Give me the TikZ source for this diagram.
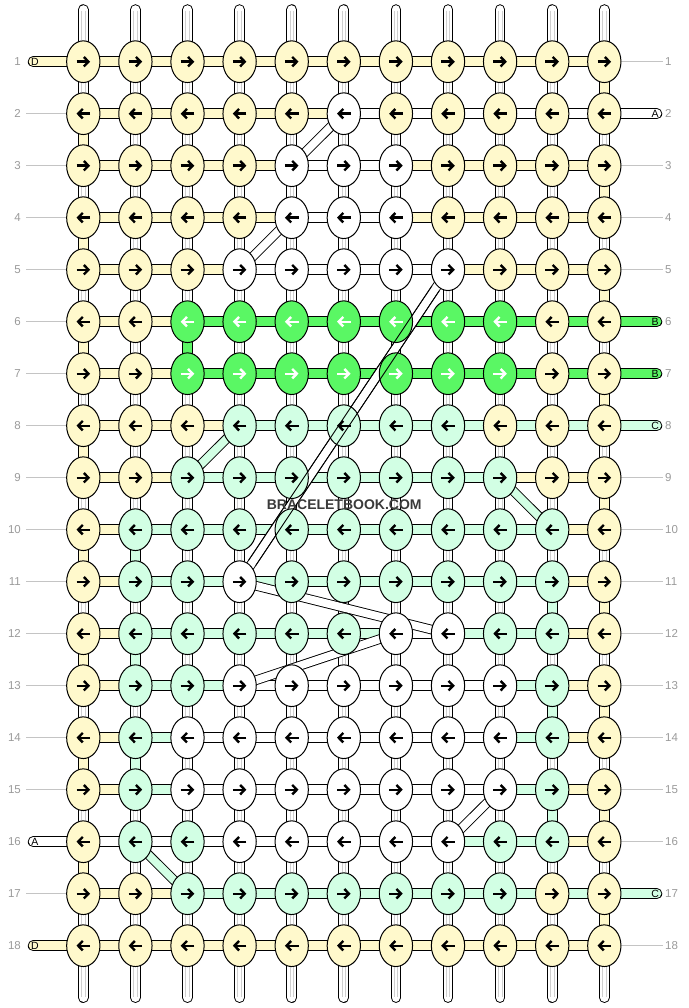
\documentclass[tikz,border=0pt]{standalone}
\usepackage{fontspec}
\setmainfont{Liberation Sans}
\usetikzlibrary{arrows.meta,shapes.geometric,calc}
\definecolor{cY}{HTML}{FFF9CC}
\definecolor{cG}{HTML}{5AF764}
\definecolor{cM}{HTML}{D2FFE4}
\definecolor{cW}{HTML}{FFFFFF}
\colorlet{aY}{black}\colorlet{aW}{black}\colorlet{aM}{black}\colorlet{aG}{white}
\definecolor{lab}{HTML}{9A9A9A}
\definecolor{gline}{HTML}{C4C4C4}
\definecolor{wline}{HTML}{CFCFCF}
\definecolor{wm}{HTML}{3A3A3A}
\tikzset{
  knot/.style={ellipse, draw, line width=1pt, minimum width=33.3pt, minimum height=41.7pt, inner sep=0pt},
  arr/.style={line width=2.4pt, -{Straight Barb[length=4.6pt,width=9.5pt]}},
  segout/.style={line width=10.7pt, draw=black},
  segin/.style={line width=8.7pt},
  tailout/.style={line width=10.7pt, draw=black, line cap=round},
  tailin/.style={line width=8.7pt, line cap=round},
  bandout/.style={line width=9.6pt, draw=black},
  bandin/.style={line width=7.8pt},
  edgeline/.style={line width=0.9pt, draw=black},
  numlab/.style={text=lab, font=\fontsize{11.5}{12}\selectfont, inner sep=0pt},
  taillab/.style={font=\fontsize{10.5}{11}\selectfont, inner sep=0pt},
  rowline/.style={draw=gline, line width=1pt}
}
\begin{document}
\begin{tikzpicture}[x=1pt,y=-1pt]
\useasboundingbox (0,0) rectangle (688,1008);
% grid coordinates
\foreach \r in {1,...,18}{\foreach \c in {1,...,11}{
  \coordinate (p-\r-\c) at ({83.3+(\c-1)*52.1},{61.7+(\r-1)*52});}}
\foreach \c in {1,...,11}{
  \coordinate (top-\c) at ({83.3+(\c-1)*52.1},9.6);
  \coordinate (bot-\c) at ({83.3+(\c-1)*52.1},997.6);}
% warp strands
\foreach \c in {1,...,11}{
  \draw[tailout] (top-\c) -- (bot-\c);
  \draw[tailin, draw=white] (top-\c) -- (bot-\c);
  \draw[wline, line width=0.8pt] ([xshift=-1.8pt,yshift=-1pt]top-\c) -- ([xshift=-1.8pt,yshift=1pt]bot-\c);
  \draw[wline, line width=0.8pt] ([xshift=1.8pt,yshift=-1pt]top-\c) -- ([xshift=1.8pt,yshift=1pt]bot-\c);
}
% coloured vertical segments
\foreach \c/\r/\k in {1/2/Y,1/4/Y,1/6/Y,1/8/Y,1/10/Y,1/12/Y,1/14/Y,1/16/Y,
  11/1/Y,11/3/Y,11/5/Y,11/7/Y,11/9/Y,11/11/Y,11/13/Y,11/15/Y,11/17/Y,
  3/6/G,2/10/M,2/12/M,2/14/M,10/11/M,10/13/M,10/15/M}{
  \pgfmathtruncatemacro\rr{\r+1}
  \draw[segout] (p-\r-\c) -- (p-\rr-\c);
  \draw[segin, draw=c\k] (p-\r-\c) -- (p-\rr-\c);
}
% row guide lines
\foreach \r in {2,3,4,5,6,7,8,9,10,11,12,13,14,15,17}{
  \coordinate (gl-\r) at (26,{61.7+(\r-1)*52});
  \draw[rowline] (gl-\r) -- (p-\r-1);}
\foreach \r in {1,3,4,5,9,10,11,12,13,14,15,16,18}{
  \coordinate (gr-\r) at (663,{61.7+(\r-1)*52});
  \draw[rowline] (p-\r-11) -- (gr-\r);}
% tails
\foreach \r/\k/\t in {1/Y/D,16/W/A,18/Y/D}{
  \coordinate (tl-\r) at (33.1,{61.7+(\r-1)*52});
  \draw[tailout] (tl-\r) -- (p-\r-1);
  \draw[tailin, draw=c\k] (tl-\r) -- (p-\r-1);
  \node[taillab] at ([xshift=1.8pt]tl-\r) {\t};}
\foreach \r/\k/\t in {2/W/A,6/G/B,7/G/B,8/M/C,17/M/C}{
  \coordinate (tr-\r) at (656.9,{61.7+(\r-1)*52});
  \draw[tailout] (p-\r-11) -- (tr-\r);
  \draw[tailin, draw=c\k] (p-\r-11) -- (tr-\r);
  \node[taillab] at ([xshift=-1.8pt]tr-\r) {\t};}
% horizontal segments
\foreach \r/\row in {
 1/{Y,Y,Y,Y,Y,Y,Y,Y,Y,Y},
 2/{Y,Y,Y,Y,Y,W,W,W,W,W},
 3/{Y,Y,Y,Y,W,W,Y,Y,Y,Y},
 4/{Y,Y,Y,Y,W,W,Y,Y,Y,Y},
 5/{Y,Y,Y,W,W,W,W,Y,Y,Y},
 6/{Y,Y,G,G,G,G,G,G,G,G},
 7/{Y,Y,G,G,G,G,G,G,G,G},
 8/{Y,Y,Y,M,M,M,M,M,M,M},
 9/{Y,Y,M,M,M,M,M,M,Y,Y},
 10/{Y,M,M,M,M,M,M,M,M,Y},
 11/{Y,M,M,M,M,M,M,M,M,Y},
 12/{Y,M,M,M,M,M,W,M,M,Y},
 13/{Y,M,M,W,W,W,W,W,M,Y},
 14/{Y,M,W,W,W,W,W,W,M,Y},
 15/{Y,M,W,W,W,W,W,W,M,Y},
 16/{W,W,W,W,W,W,W,M,M,Y},
 17/{Y,Y,M,M,M,M,M,M,M,M},
 18/{Y,Y,Y,Y,Y,Y,Y,Y,Y,Y}}{
  \foreach \k [count=\c] in \row {
    \pgfmathtruncatemacro\cc{\c+1}
    \draw[segout] (p-\r-\c) -- (p-\r-\cc);
    \draw[segin, draw=c\k] (p-\r-\c) -- (p-\r-\cc);
  }
}
% diagonal transfers
\foreach \ra/\ca/\rb/\cb/\k in {2/6/3/5/W,4/5/5/4/W,5/8/11/4/W,8/4/9/3/M,9/9/10/10/M,
  11/4/12/8/W,12/7/13/4/W,15/9/16/8/W,16/2/17/3/M}{
  \draw[bandout] (p-\ra-\ca) -- (p-\rb-\cb);
  \draw[bandin, draw=c\k] (p-\ra-\ca) -- (p-\rb-\cb);
}
% knots
\foreach \r/\row in {
 1/{Y,Y,Y,Y,Y,Y,Y,Y,Y,Y,Y},
 2/{Y,Y,Y,Y,Y,W,Y,Y,Y,Y,Y},
 3/{Y,Y,Y,Y,W,W,W,Y,Y,Y,Y},
 4/{Y,Y,Y,Y,W,W,W,Y,Y,Y,Y},
 5/{Y,Y,Y,W,W,W,W,W,Y,Y,Y},
 6/{Y,Y,G,G,G,G,G,G,G,Y,Y},
 7/{Y,Y,G,G,G,G,G,G,G,Y,Y},
 8/{Y,Y,Y,M,M,M,M,M,Y,Y,Y},
 9/{Y,Y,M,M,M,M,M,M,M,Y,Y},
 10/{Y,M,M,M,M,M,M,M,M,M,Y},
 11/{Y,M,M,W,M,M,M,M,M,M,Y},
 12/{Y,M,M,M,M,M,W,W,M,M,Y},
 13/{Y,M,M,W,W,W,W,W,W,M,Y},
 14/{Y,M,W,W,W,W,W,W,W,M,Y},
 15/{Y,M,W,W,W,W,W,W,W,M,Y},
 16/{Y,M,M,W,W,W,W,W,M,M,Y},
 17/{Y,Y,M,M,M,M,M,M,M,Y,Y},
 18/{Y,Y,Y,Y,Y,Y,Y,Y,Y,Y,Y}}{
  \foreach \k [count=\c] in \row {
    \node[knot, fill=c\k] (n-\r-\c) at (p-\r-\c) {};
    \ifodd\r\relax
      \draw[arr, draw=a\k] ([xshift=-6.8pt]n-\r-\c.center) -- ([xshift=6.8pt]n-\r-\c.center);
    \else
      \draw[arr, draw=a\k] ([xshift=6.8pt]n-\r-\c.center) -- ([xshift=-6.8pt]n-\r-\c.center);
    \fi
  }
}
% edges of the long transfer, visible across the knots it passes
\path (n-5-8.center) -- (n-11-4.center)
  coordinate[pos=0.06] (la) coordinate[pos=0.94] (lb);
\draw[edgeline] ($(la)!4.4pt!90:(lb)$) -- ($(lb)!4.4pt!-90:(la)$);
\draw[edgeline] ($(la)!4.4pt!-90:(lb)$) -- ($(lb)!4.4pt!90:(la)$);
% row numbers
\foreach \r in {1,...,18}{
  \node[numlab, anchor=east] (ln-\r) at (21,{61.7+(\r-1)*52}) {\r};
  \node[numlab, anchor=west] (rn-\r) at (665,{61.7+(\r-1)*52}) {\r};}
% watermark
\node[font=\bfseries\fontsize{14}{14}\selectfont, text=wm, anchor=base, inner sep=0pt] (wmk) at (344.2,509) {BRACELETBOOK.COM};
\end{tikzpicture}
\end{document}
